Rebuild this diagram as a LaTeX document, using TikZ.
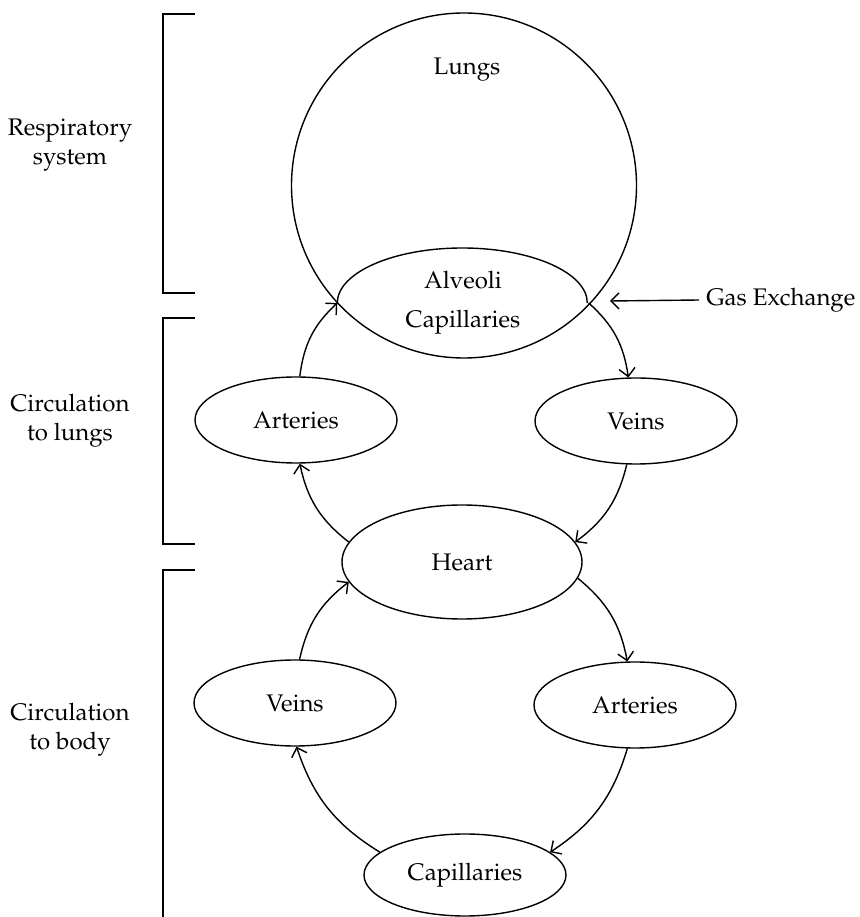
\documentclass[tikz,border=0pt]{standalone}
\usepackage[T1]{fontenc}
\usepackage{mathpazo}
\usepackage{tikz}
\usetikzlibrary{shapes.geometric,arrows.meta}

\begin{document}
\begin{tikzpicture}[
      x=0.5pt, y=0.5pt,
      font=\fontsize{12pt}{14.5pt}\selectfont,
      line width=0.7pt,
      >={Straight Barb[length=4pt,width=8pt]},
      organ/.style={
            ellipse, draw,
            minimum width=101pt, minimum height=43pt,
            inner sep=0pt, text=black
        },
      group/.style={align=center, text=black},
      flow/.style={->, bend left=20}
      ]
    \useasboundingbox (0,0) rectangle (860,917);

    % lungs and the gas exchange part
    \node[circle,draw,minimum size=172.5pt,inner sep=0pt] (lungs) at (464,731.5) {};
    \node (lungstext) at (467,847) {Lungs};
    \node[organ,draw=none,minimum width=125pt,minimum height=55pt,align=center] (alv) at (463,614) {Alveoli\\[5pt]Capillaries};
    \draw (alv.west) arc[start angle=180, end angle=0, x radius=62.5pt, y radius=27.5pt];
    \node[anchor=west] (gas) at (699,617) {Gas Exchange};
    \coordinate (gastip) at (610,616);

    % circulation to lungs
    \node[organ] (artL) at (296,497) {Arteries};
    \node[organ] (veinL) at (636,496) {Veins};
    \node[organ,minimum width=120pt,minimum height=57pt] (heart) at (462,355) {Heart};

    % circulation to body
    \node[organ] (veinB) at (295,214) {Veins};
    \node[organ] (artB) at (635,212) {Arteries};
    \node[organ,minimum height=41pt] (cap) at (465,42) {Capillaries};

    \node[group] (resp) at (70,772) {Respiratory\\system};
    \node[group] (circlungs) at (70,496) {Circulation\\to lungs};
    \node[group] (circbody) at (70,187) {Circulation\\to body};

    \draw (195,903) -- (163,903) -- (163,624) -- (195,624);
    \draw (195,599) -- (163,599) -- (163,373) -- (195,373);
    \draw (195,347) -- (163,347) -- (163,0);

    \draw[->] (gas.west) -- (gastip);

    \draw[flow] (artL.85) to (alv.west);
    \draw[flow] (alv.east) to (veinL.100);
    \draw[flow] (veinL.258) to (heart.10);
    \draw[flow] (heart.170) to (artL.275);

    \draw[flow] (veinB.84) to (heart.190);
    \draw[flow] (heart.352) to (artB.100);
    \draw[flow] (artB.260) to (cap.15);
    \draw[flow] (cap.165) to (veinB.272);
  \end{tikzpicture}
\end{document}
